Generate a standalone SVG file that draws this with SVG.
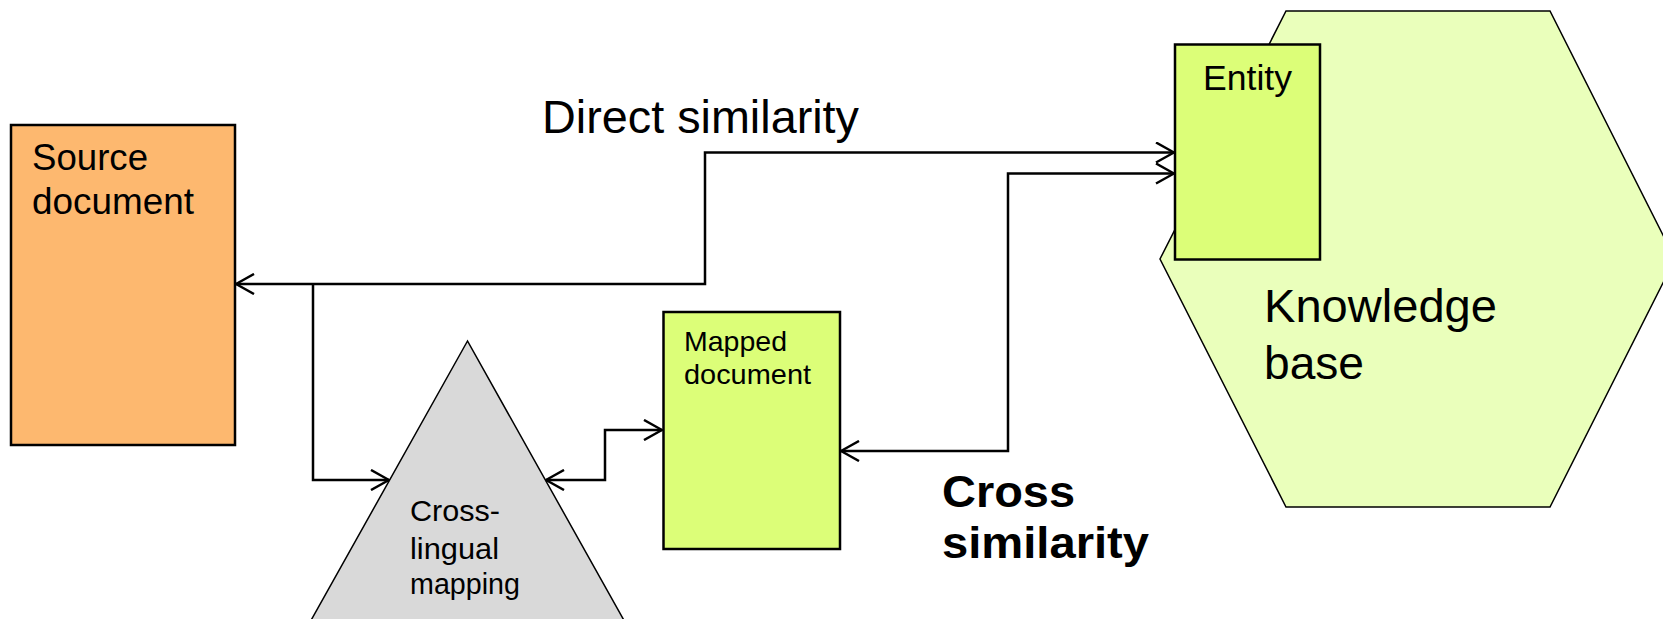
<svg xmlns="http://www.w3.org/2000/svg" width="1663" height="619" viewBox="0 0 1663 619">
  <defs>
    <style>
      .box { stroke: #000; stroke-width: 2.5; }
      .thin { stroke: #000; stroke-width: 1.5; }
      .lbl { font-family: "Liberation Sans", Arial, sans-serif; fill: #000; }
      .wire { fill: none; stroke: #000; stroke-width: 2.5; }
    </style>
    <marker id="chev" viewBox="0 0 20 22" refX="19" refY="11" markerWidth="20" markerHeight="22" markerUnits="userSpaceOnUse" orient="auto-start-reverse">
      <path d="M1,1 L19,11 L1,21" fill="none" stroke="#000" stroke-width="2.5"/>
    </marker>
  </defs>

  <rect width="1663" height="619" fill="#fff"/>

  <!-- knowledge base hexagon -->
  <g id="knowledge-base">
    <polygon class="thin" fill="#EAFFBB" points="1286,11 1550,11 1675,259 1550,507 1286,507 1160,259"/>
    <text class="lbl" font-size="46" x="1264" y="322" textLength="233" lengthAdjust="spacingAndGlyphs">Knowledge</text>
    <text class="lbl" font-size="46" x="1264" y="379" textLength="100" lengthAdjust="spacingAndGlyphs">base</text>
  </g>

  <!-- entity inside the knowledge base -->
  <g id="entity">
    <rect class="box" fill="#DCFE78" x="1175" y="44.5" width="145" height="215"/>
    <text class="lbl" font-size="35" x="1203" y="90" textLength="89" lengthAdjust="spacingAndGlyphs">Entity</text>
  </g>

  <!-- source document -->
  <g id="source-document">
    <rect class="box" fill="#FDB86F" x="11" y="125" width="224" height="320"/>
    <text class="lbl" font-size="36" x="32" y="170" textLength="116" lengthAdjust="spacingAndGlyphs">Source</text>
    <text class="lbl" font-size="36" x="32" y="214" textLength="162" lengthAdjust="spacingAndGlyphs">document</text>
  </g>

  <!-- cross-lingual mapping triangle -->
  <g id="cross-lingual-mapping">
    <polygon class="thin" fill="#D9D9D9" points="467.5,341 300,640 635,640"/>
    <text class="lbl" font-size="29" x="410" y="521" textLength="90" lengthAdjust="spacingAndGlyphs">Cross-</text>
    <text class="lbl" font-size="29" x="410" y="559" textLength="89" lengthAdjust="spacingAndGlyphs">lingual</text>
    <text class="lbl" font-size="29" x="410" y="594" textLength="110" lengthAdjust="spacingAndGlyphs">mapping</text>
  </g>

  <!-- mapped document -->
  <g id="mapped-document">
    <rect class="box" fill="#DCFE78" x="663.5" y="312" width="176.5" height="237"/>
    <text class="lbl" font-size="28" x="684" y="351" textLength="103" lengthAdjust="spacingAndGlyphs">Mapped</text>
    <text class="lbl" font-size="28" x="684" y="384" textLength="127" lengthAdjust="spacingAndGlyphs">document</text>
  </g>

  <!-- edge labels -->
  <g id="labels">
    <text class="lbl" font-size="46" x="542" y="133" textLength="317" lengthAdjust="spacingAndGlyphs">Direct similarity</text>
    <text class="lbl" font-size="45" font-weight="bold" x="942" y="507" textLength="133" lengthAdjust="spacingAndGlyphs">Cross</text>
    <text class="lbl" font-size="45" font-weight="bold" x="942" y="558" textLength="207" lengthAdjust="spacingAndGlyphs">similarity</text>
  </g>

  <!-- connectors -->
  <g id="connectors">
    <polyline class="wire" points="236,284 705,284 705,152.5 1174,152.5" marker-start="url(#chev)" marker-end="url(#chev)"/>
    <polyline class="wire" points="313,284 313,480 389,480" marker-end="url(#chev)"/>
    <polyline class="wire" points="546,480 605,480 605,430 662,430" marker-start="url(#chev)" marker-end="url(#chev)"/>
    <polyline class="wire" points="841,451 1008,451 1008,173.5 1174,173.5" marker-start="url(#chev)" marker-end="url(#chev)"/>
  </g>
</svg>
